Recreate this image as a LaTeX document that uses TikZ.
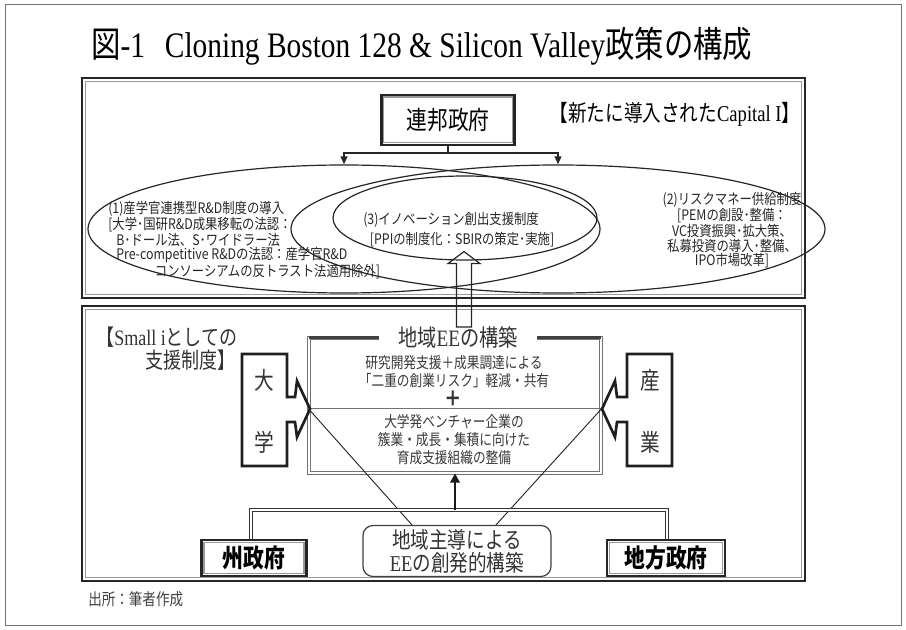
\documentclass[tikz,border=0pt]{standalone}
\usepackage{fontspec}
\setmainfont[FakeStretch=0.82]{Liberation Serif}
\newfontfamily\jp[FakeStretch=0.82]{Noto Sans CJK JP}
\newfontfamily\gothic[FakeStretch=0.85]{Noto Sans CJK JP}
\usetikzlibrary{arrows.meta,calc,shapes.geometric}

\newcommand\fsz[2]{\fontsize{#1}{#2}\selectfont}
% second, thinner grey line just inside a framed node
\newcommand\insetframe[2]{\draw[innerframe] ($(#1.south west)+(#2,-#2)$) rectangle ($(#1.north east)+(-#2,#2)$);}

\begin{document}
\begin{tikzpicture}[x=0.75pt,y=-0.75pt,
  every node/.style={inner sep=0pt},
  outerframe/.style={draw=black!85,line width=2.2pt},
  innerframe/.style={draw=black!40,line width=1pt},
  ell/.style={ellipse,draw=black!85,line width=0.9pt},
  gtext/.style={font=\gothic\fsz{10.9pt}{10.65pt},text=black!85},
  mtext/.style={font=\jp\fsz{11.6pt}{13.5pt},text=black!78},
  gov/.style={draw=black!85,line width=1.6pt,minimum height=36*0.75pt,font=\jp\bfseries\fsz{19pt}{22pt}},
  dline/.style={draw=black!80,line width=0.6pt,double=white,double distance=2pt},
  shapeline/.style={draw=black!88,line width=2pt,line join=miter},
  bigchar/.style={font=\jp\fsz{18pt}{20pt},text=black!80},
  thinline/.style={draw=black!85,line width=0.7pt}]
\useasboundingbox (0,0) rectangle (906,630);

% page frame and title
\draw[black!55,line width=0.75pt] (5,5) rectangle (901,625);
\node[anchor=west,font=\fsz{26.9pt}{30pt}] (title) at (91,46)
  {{\jp 図}-1\hspace{0.55em}Cloning Boston 128 \& Silicon Valley{\jp 政策の構成}};

% upper and lower panels
\draw[outerframe] (82,78) rectangle (805,298);
\draw[innerframe] (85.5,81.5) rectangle (801.5,294.5);
\draw[outerframe] (82,306) rectangle (805,581);
\draw[innerframe] (85.5,309.5) rectangle (801.5,577.5);

% federal government
\node[draw=black!85,line width=2pt,minimum width=133*0.75pt,minimum height=50*0.75pt,
      font=\jp\fsz{19pt}{22pt}] (fed) at (448,120) {連邦政府};
\insetframe{fed}{3.5}
\node[font=\fsz{17pt}{20pt}] (cap) at (675,114) {{\jp 【新たに導入された}Capital I{\jp 】}};

% policy ellipses
\node[ell,minimum width=512*0.75pt,minimum height=128*0.75pt] (L) at (344,229) {};
\node[ell,minimum width=534*0.75pt,minimum height=128*0.75pt] (R) at (558,229) {};
\node[ell,minimum width=264*0.75pt,minimum height=84*0.75pt] (C) at (465,218) {};

\coordinate (tj) at ($(fed.south)+(0,7)$);
\draw[black!85,line width=2pt] (fed.south) -- (tj);
\draw[black!85,line width=1.3pt,-{Triangle[length=6pt,width=5pt]}] (tj) -| (L.north);
\draw[black!85,line width=1.3pt,-{Triangle[length=6pt,width=5pt]}] (tj) -| (R.north);

\node[gtext,anchor=west,align=left] (t1) at (108,240)
  {(1)産学官連携型R\&D制度の導入\\{[}大学･国研R\&D成果移転の法認：\\\hspace*{6pt}B･ドール法、S･ワイドラー法\\\hspace*{6pt}Pre-competitive R\&Dの法認：産学官R\&D\\\hspace*{35pt}コンソーシアムの反トラスト法適用除外]};
\node[gtext,align=center] (t2) at (732,230)
  {(2)リスクマネー供給制度\\{[}PEMの創設･整備：\\VC投資振興･拡大策、\\私募投資の導入･整備、\\IPO市場改革]};
\node[gtext,anchor=west,align=left,font=\gothic\fsz{10.9pt}{15pt}] (t3) at (363,230)
  {(3)イノベーション創出支援制度\\\hspace*{5pt}{[}PPIの制度化：SBIRの策定･実施]};

% lower panel heading
\node[anchor=west,align=left,font=\fsz{16.5pt}{17.25pt},text=black!80] (smalli) at (96,349)
  {{\jp 【}Small i{\jp としての}\\\hspace*{37pt}{\jp 支援制度】}};

% regional EE box
\node[draw=black!55,line width=0.5pt,double=white,double distance=1.6pt,
      minimum width=292*0.75pt,minimum height=135*0.75pt] (ee) at (455,405.5) {};
\draw[black!75,line width=2pt] (ee.north west) -- (ee.north east);
\node[fill=white,inner xsep=14pt,inner ysep=1pt,font=\fsz{17.6pt}{20pt},text=black!80] (eet) at (458,338)
  {{\jp 地域}EE{\jp の構築}};
\path (ee.west) ++(0,3.5) coordinate (divL);
\path (ee.east) ++(0,3.5) coordinate (divR);
\draw[black!55,line width=0.75pt] (divL) -- (divR);
\node[mtext,align=center] (ee1) at (454,372) {研究開発支援＋成果調達による\\「二重の創業リスク」軽減・共有};
\node[font=\jp\bfseries\fsz{16pt}{16pt},text=black!80] (plus) at (453,399) {＋};
\node[mtext,align=center] (ee2) at (454,440) {大学発ベンチャー企業の\\簇業・成長・集積に向けた\\育成支援組織の整備};

% hollow arrow up to the innovation ellipse
\coordinate (hb) at (464,327);
\coordinate (ht) at ($(C.south)+(-1,-9)$);
\draw[black!85,line width=0.9pt,line join=miter]
  ($(hb)+(-7.5,0)$) -- ($(ht)+(-7.5,12)$) -- ($(ht)+(-16,12)$) -- (ht)
  -- ($(ht)+(16,12)$) -- ($(ht)+(7.5,12)$) -- ($(hb)+(7.5,0)$) -- cycle;

% university and industry
\draw[shapeline] (287,354) -- (242,354) -- (242,466) -- (287,466) -- (287,422) -- (295,422)
  -- (297,437) -- (310,409) -- (297,381) -- (295,397) -- (287,397) -- cycle;
\node[bigchar] (dai) at (264,380) {大};
\node[bigchar] (gaku) at (264,442) {学};
\draw[shapeline] (627,354) -- (672,354) -- (672,466) -- (627,466) -- (627,422) -- (617,422)
  -- (615,437) -- (602,409) -- (615,381) -- (617,397) -- (627,397) -- cycle;
\node[bigchar] (san) at (650,380) {産};
\node[bigchar] (gyo) at (650,442) {業};

% regionally led construction
\node[draw=black!75,line width=0.9pt,rounded corners=7.5pt,minimum width=188*0.75pt,
      minimum height=51*0.75pt,align=center,font=\fsz{17pt}{17.25pt},text=black!80] (rb) at (457,551)
  {{\jp 地域主導による}\\EE{\jp の創発的構築}};
\draw[thinline] (divL) -- ($(rb.north)+(-45,0)$);
\draw[thinline] (divR) -- ($(rb.north)+(39,0)$);

% state and local governments
\node[gov,minimum width=105*0.75pt] (sgov) at (254,558) {州政府};
\insetframe{sgov}{3.5}
\node[gov,minimum width=118*0.75pt] (lgov) at (666,558) {地方政府};
\insetframe{lgov}{3.5}
\coordinate (barL) at (251,510);
\coordinate (barR) at (667,510);
\draw[dline] (sgov.north -| barL) -- (barL) -- (barR) -- (lgov.north -| barR);
\draw[black!90,line width=2.2pt,-{Triangle[length=7pt,width=7pt]}] (ee.south |- barL) -- (ee.south);

% source note
\node[anchor=west,font=\jp\fsz{12.4pt}{14pt},text=black!75] (src) at (88,599) {出所：筆者作成};
\end{tikzpicture}
\end{document}
